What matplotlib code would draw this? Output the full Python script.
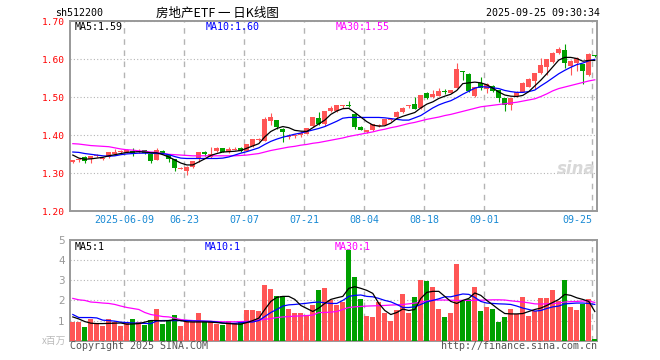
import matplotlib
matplotlib.use('Agg')
import matplotlib.pyplot as plt

plt.rcParams['font.family'] = ['DejaVu Sans Mono', 'Noto Sans CJK SC']

# 日K数据 (共88个交易日, 最后一天 2025-09-25)
opens = [1.331, 1.334, 1.344, 1.337, 1.345, 1.337, 1.342, 1.351, 1.356, 1.355,
         1.360, 1.355, 1.360, 1.352, 1.335, 1.358, 1.349, 1.337, 1.312, 1.307,
         1.316, 1.337, 1.354, 1.342, 1.358, 1.366, 1.355, 1.362, 1.366, 1.359,
         1.372, 1.388, 1.386, 1.438, 1.440, 1.416, 1.396, 1.397, 1.402, 1.404,
         1.424, 1.445, 1.430, 1.463, 1.463, 1.476, 1.478, 1.455, 1.423, 1.410,
         1.414, 1.425, 1.427, 1.441, 1.447, 1.461, 1.476, 1.482, 1.471, 1.512,
         1.500, 1.504, 1.516, 1.512, 1.525, 1.568, 1.561, 1.504, 1.538, 1.521,
         1.530, 1.519, 1.497, 1.481, 1.503, 1.515, 1.528, 1.543, 1.563, 1.579,
         1.592, 1.616, 1.624, 1.582, 1.590, 1.587, 1.559, 1.610]
highs = [1.336, 1.339, 1.345, 1.346, 1.350, 1.343, 1.357, 1.363, 1.362, 1.364,
         1.366, 1.364, 1.361, 1.353, 1.366, 1.361, 1.350, 1.338, 1.316, 1.318,
         1.333, 1.356, 1.359, 1.370, 1.368, 1.367, 1.368, 1.370, 1.368, 1.378,
         1.391, 1.392, 1.447, 1.458, 1.441, 1.419, 1.403, 1.403, 1.412, 1.420,
         1.448, 1.462, 1.464, 1.478, 1.481, 1.481, 1.490, 1.458, 1.424, 1.415,
         1.430, 1.430, 1.443, 1.446, 1.463, 1.475, 1.481, 1.502, 1.507, 1.514,
         1.518, 1.524, 1.523, 1.520, 1.591, 1.569, 1.563, 1.528, 1.553, 1.538,
         1.533, 1.520, 1.498, 1.499, 1.516, 1.540, 1.552, 1.564, 1.603, 1.602,
         1.620, 1.632, 1.641, 1.597, 1.605, 1.588, 1.616, 1.611]
lows = [1.328, 1.331, 1.328, 1.328, 1.342, 1.335, 1.340, 1.350, 1.354, 1.353,
        1.345, 1.353, 1.352, 1.328, 1.334, 1.350, 1.329, 1.307, 1.311, 1.295,
        1.315, 1.330, 1.346, 1.341, 1.357, 1.356, 1.354, 1.360, 1.357, 1.358,
        1.370, 1.384, 1.385, 1.427, 1.416, 1.383, 1.391, 1.394, 1.396, 1.403,
        1.422, 1.427, 1.425, 1.461, 1.462, 1.471, 1.474, 1.416, 1.413, 1.405,
        1.412, 1.421, 1.426, 1.438, 1.446, 1.460, 1.473, 1.468, 1.470, 1.496,
        1.499, 1.503, 1.508, 1.511, 1.524, 1.546, 1.513, 1.501, 1.520, 1.512,
        1.513, 1.488, 1.463, 1.467, 1.502, 1.514, 1.527, 1.522, 1.562, 1.559,
        1.591, 1.615, 1.577, 1.559, 1.568, 1.536, 1.557, 1.607]
closes = [1.333, 1.336, 1.333, 1.345, 1.347, 1.339, 1.356, 1.357, 1.358, 1.362,
          1.354, 1.359, 1.353, 1.333, 1.361, 1.353, 1.338, 1.313, 1.314, 1.317,
          1.332, 1.355, 1.352, 1.351, 1.366, 1.357, 1.364, 1.364, 1.359, 1.377,
          1.390, 1.390, 1.444, 1.449, 1.423, 1.410, 1.398, 1.400, 1.405, 1.419,
          1.447, 1.430, 1.463, 1.472, 1.479, 1.478, 1.476, 1.423, 1.414, 1.413,
          1.429, 1.427, 1.442, 1.443, 1.462, 1.473, 1.478, 1.469, 1.506, 1.497,
          1.510, 1.516, 1.514, 1.519, 1.575, 1.566, 1.516, 1.527, 1.524, 1.535,
          1.516, 1.497, 1.479, 1.498, 1.515, 1.537, 1.548, 1.563, 1.585, 1.601,
          1.617, 1.627, 1.589, 1.596, 1.603, 1.570, 1.613, 1.608]

ma5 = [1.348, 1.340, 1.337, 1.338, 1.340, 1.342, 1.346, 1.349, 1.352, 1.355,
       1.356, 1.357, 1.356, 1.354, 1.354, 1.349, 1.343, 1.335, 1.327, 1.322,
       1.322, 1.330, 1.338, 1.347, 1.352, 1.356, 1.357, 1.358, 1.360, 1.366,
       1.372, 1.378, 1.396, 1.410, 1.418, 1.423, 1.420, 1.413, 1.411, 1.410,
       1.420, 1.430, 1.440, 1.455, 1.464, 1.470, 1.471, 1.460, 1.448, 1.436,
       1.427, 1.424, 1.425, 1.432, 1.444, 1.450, 1.455, 1.460, 1.472, 1.482,
       1.488, 1.497, 1.503, 1.508, 1.518, 1.536, 1.538, 1.540, 1.538, 1.533,
       1.524, 1.514, 1.506, 1.503, 1.502, 1.505, 1.515, 1.530, 1.545, 1.562,
       1.580, 1.598, 1.605, 1.605, 1.602, 1.595, 1.597, 1.597]
ma10 = [1.356, 1.355, 1.352, 1.350, 1.348, 1.346, 1.345, 1.346, 1.349, 1.351,
        1.352, 1.353, 1.353, 1.353, 1.352, 1.352, 1.349, 1.344, 1.340, 1.339,
        1.339, 1.339, 1.339, 1.339, 1.339, 1.340, 1.343, 1.348, 1.353, 1.357,
        1.362, 1.367, 1.376, 1.384, 1.390, 1.395, 1.399, 1.403, 1.406, 1.410,
        1.414, 1.418, 1.423, 1.430, 1.437, 1.445, 1.447, 1.447, 1.447, 1.447,
        1.447, 1.447, 1.446, 1.444, 1.442, 1.440, 1.440, 1.446, 1.452, 1.462,
        1.472, 1.480, 1.486, 1.491, 1.499, 1.508, 1.516, 1.524, 1.528, 1.527,
        1.525, 1.523, 1.518, 1.515, 1.513, 1.513, 1.515, 1.519, 1.530, 1.540,
        1.551, 1.562, 1.571, 1.579, 1.586, 1.590, 1.596, 1.600]
ma30 = [1.378, 1.377, 1.375, 1.373, 1.372, 1.371, 1.370, 1.367, 1.364, 1.362,
        1.361, 1.359, 1.358, 1.356, 1.355, 1.352, 1.350, 1.349, 1.348, 1.347,
        1.346, 1.346, 1.346, 1.346, 1.346, 1.346, 1.346, 1.346, 1.347, 1.348,
        1.350, 1.352, 1.356, 1.360, 1.363, 1.366, 1.369, 1.371, 1.374, 1.376,
        1.379, 1.381, 1.384, 1.387, 1.390, 1.393, 1.397, 1.400, 1.403, 1.406,
        1.409, 1.413, 1.416, 1.420, 1.423, 1.427, 1.431, 1.434, 1.438, 1.442,
        1.445, 1.448, 1.452, 1.455, 1.459, 1.463, 1.467, 1.471, 1.475, 1.477,
        1.479, 1.481, 1.483, 1.485, 1.487, 1.490, 1.493, 1.496, 1.502, 1.509,
        1.517, 1.523, 1.527, 1.531, 1.535, 1.539, 1.543, 1.546]

# 成交量 (百万)
volumes = [0.93, 0.93, 0.69, 1.07, 0.90, 0.75, 1.07, 0.92, 0.75, 0.87,
           1.07, 0.92, 0.78, 1.02, 1.58, 0.85, 1.02, 1.28, 0.74, 0.92,
           0.92, 1.38, 1.00, 1.00, 0.85, 0.78, 0.98, 0.86, 0.95, 1.53,
           1.53, 1.45, 2.78, 2.58, 2.20, 2.20, 1.57, 1.37, 1.40, 1.28,
           1.78, 2.53, 2.63, 2.02, 1.79, 1.92, 4.49, 3.15, 2.08, 1.25,
           1.18, 1.92, 1.37, 1.00, 1.53, 2.33, 1.40, 2.15, 3.03, 2.98,
           2.65, 1.58, 1.18, 1.38, 3.83, 1.98, 2.08, 2.68, 1.48, 1.65,
           1.58, 0.95, 1.18, 1.58, 1.32, 2.18, 1.25, 1.48, 2.13, 2.13,
           2.53, 1.98, 3.03, 1.65, 1.53, 1.83, 2.08, 0.08]
vol_ma5 = [1.18, 1.08, 0.95, 0.87, 0.85, 0.85, 0.86, 0.87, 0.88, 0.82,
           0.83, 0.85, 0.92, 1.00, 1.00, 0.98, 1.00, 1.05, 1.00, 0.94,
           0.93, 0.93, 0.93, 0.92, 0.90, 0.87, 0.85, 0.83, 0.82, 0.90,
           1.00, 1.12, 1.55, 1.95, 2.15, 2.20, 2.20, 2.05, 1.75, 1.60,
           1.45, 1.62, 1.85, 2.05, 2.13, 2.20, 2.60, 2.68, 2.60, 2.50,
           2.35, 1.85, 1.50, 1.30, 1.40, 1.57, 1.50, 1.55, 2.10, 2.40,
           2.45, 2.45, 2.20, 1.95, 1.85, 2.00, 2.10, 2.37, 2.25, 2.00,
           1.78, 1.55, 1.35, 1.33, 1.33, 1.35, 1.45, 1.55, 1.62, 1.75,
           1.90, 2.05, 2.30, 2.25, 2.13, 2.05, 1.95, 1.45]
vol_ma10 = [1.30, 1.15, 1.15, 1.15, 1.13, 1.02, 1.00, 0.97, 0.92, 0.90,
            0.88, 0.87, 0.86, 0.85, 0.98, 1.00, 1.00, 1.00, 1.00, 1.00,
            0.98, 0.98, 0.97, 0.96, 0.93, 0.88, 0.86, 0.86, 0.90, 0.92,
            0.93, 1.00, 1.20, 1.40, 1.55, 1.72, 1.78, 1.80, 1.83, 1.86,
            1.90, 1.92, 1.88, 1.85, 1.85, 2.00, 2.20, 2.25, 2.27, 2.20,
            2.18, 2.10, 2.00, 1.93, 1.80, 1.65, 1.65, 1.68, 1.80, 1.93,
            2.00, 2.08, 2.18, 2.18, 2.25, 2.32, 2.30, 2.15, 1.95, 1.87,
            1.85, 1.83, 1.82, 1.80, 1.72, 1.62, 1.55, 1.47, 1.50, 1.60,
            1.68, 1.72, 1.83, 1.85, 1.87, 1.87, 1.85, 1.80]
vol_ma30 = [2.10, 2.03, 2.00, 1.92, 1.90, 1.87, 1.85, 1.80, 1.72, 1.65,
            1.60, 1.55, 1.40, 1.30, 1.25, 1.20, 1.18, 1.12, 1.05, 1.02,
            1.00, 0.98, 0.97, 0.96, 0.95, 0.94, 0.94, 0.94, 0.95, 0.96,
            0.98, 1.02, 1.06, 1.10, 1.15, 1.18, 1.20, 1.22, 1.23, 1.25,
            1.27, 1.40, 1.40, 1.42, 1.45, 1.55, 1.65, 1.68, 1.70, 1.72,
            1.73, 1.74, 1.75, 1.77, 1.78, 1.80, 1.83, 1.87, 1.92, 1.97,
            2.02, 2.02, 2.02, 2.01, 2.00, 2.00, 2.00, 2.00, 2.01, 2.02,
            2.03, 2.03, 2.02, 1.98, 1.95, 1.92, 1.88, 1.83, 1.82, 1.83,
            1.85, 1.87, 1.92, 1.94, 1.95, 1.97, 1.97, 1.90]

tick_idx = [9, 19, 29, 39, 49, 59, 69, 87]
tick_labels = ['2025-06-09', '06-23', '07-07', '07-21', '08-04', '08-18', '09-01', '09-25']

up_color = '#ff5555'
down_color = '#00a000'
frame_color = '#999999'
grid_color = '#b4b4b4'

n = len(closes)
x = list(range(n))
colors = [up_color if closes[i] >= opens[i] else down_color for i in x]

fig = plt.figure(figsize=(6.6, 3.6), dpi=100)
ax = fig.add_axes([70.3 / 660, 1 - 211.3 / 360, 527 / 660, 190 / 360])
axv = fig.add_axes([70.3 / 660, 1 - 340.7 / 360, 527 / 660, 100.7 / 360])

# 价格K线
bottoms = [min(opens[i], closes[i]) for i in x]
heights = [max(abs(closes[i] - opens[i]), 0.0028) for i in x]
ax.vlines(x, lows, highs, colors=colors, linewidth=0.8, zorder=3)
ax.bar(x, heights, bottom=bottoms, width=0.82, color=colors, linewidth=0, zorder=4)
ax.plot(x, ma30, color='#ff00ff', linewidth=0.9, zorder=5)
ax.plot(x, ma10, color='#0000ff', linewidth=0.9, zorder=5)
ax.plot(x, ma5, color='#000000', linewidth=0.9, zorder=5)

ax.set_xlim(-0.42, n - 0.58)
ax.set_ylim(1.20, 1.70)
ax.set_yticks([1.20, 1.30, 1.40, 1.50, 1.60, 1.70])
ax.set_yticklabels(['%.2f' % v for v in [1.20, 1.30, 1.40, 1.50, 1.60, 1.70]],
                   color='#ff0000', fontsize=6.8)
ax.tick_params(axis='y', length=0, pad=4)
ax.set_xticks([t - 0.42 for t in tick_idx])
ax.set_xticklabels(tick_labels, color='#1a8ad4', fontsize=7.2)
ax.get_xticklabels()[-1].set_horizontalalignment('right')
ax.tick_params(axis='x', length=0, pad=3)
ax.yaxis.grid(True, color=grid_color, linestyle=(0, (1, 2)), linewidth=0.8)

# 成交量
axv.bar(x, volumes, width=0.82, color=colors, linewidth=0, zorder=3)
axv.plot(x, vol_ma30, color='#ff00ff', linewidth=0.9, zorder=5)
axv.plot(x, vol_ma10, color='#0000ff', linewidth=0.9, zorder=5)
axv.plot(x, vol_ma5, color='#000000', linewidth=0.9, zorder=5)
axv.set_xlim(-0.42, n - 0.58)
axv.set_ylim(0, 5)
axv.set_yticks([1, 2, 3, 4, 5])
axv.set_yticklabels(['1', '2', '3', '4', '5'], color='#999999', fontsize=7.5,
                    family='DejaVu Sans')
axv.tick_params(axis='y', length=0, pad=4)
axv.set_xticks([t - 0.42 for t in tick_idx])
axv.set_xticklabels([])
axv.tick_params(axis='x', length=0)
axv.yaxis.grid(True, color=grid_color, linestyle=(0, (1, 2)), linewidth=0.8)

for a in (ax, axv):
    for t in tick_idx:
        a.axvline(t - 0.42, color=grid_color, linestyle=(0, (4, 4)), linewidth=1, zorder=1)
    for s in a.spines.values():
        s.set_color(frame_color)
        s.set_linewidth(1.4)
    a.set_axisbelow(True)

# 文字
fig.text(55 / 660, 1 - 13 / 360, 'sh512200', fontsize=7.2, va='center', color='#000000')
fig.text(217 / 660, 1 - 13 / 360, '房地产ETF 一 日K线图', fontsize=9, va='center', ha='center',
         family=['Noto Sans CJK SC', 'DejaVu Sans'])
fig.text(600 / 660, 1 - 13 / 360, '2025-09-25 09:30:34', fontsize=7.2, va='center', ha='right')

fig.text(75 / 660, 1 - 27 / 360, 'MA5:1.59', fontsize=7.2, va='center', color='#000000')
fig.text(206 / 660, 1 - 27 / 360, 'MA10:1.60', fontsize=7.2, va='center', color='#0000ff')
fig.text(336 / 660, 1 - 27 / 360, 'MA30:1.55', fontsize=7.2, va='center', color='#ff00ff')

fig.text(75 / 660, 1 - 247 / 360, 'MA5:1', fontsize=7.2, va='center', color='#000000')
fig.text(205 / 660, 1 - 247 / 360, 'MA10:1', fontsize=7.2, va='center', color='#0000ff')
fig.text(335 / 660, 1 - 247 / 360, 'MA30:1', fontsize=7.2, va='center', color='#ff00ff')

fig.text(66 / 660, 1 - 341 / 360, 'x百万', fontsize=7, va='center', ha='right', color='#bbbbbb',
         family=['Noto Sans CJK SC', 'DejaVu Sans'])
fig.text(70 / 660, 1 - 346 / 360, 'Copyright 2025 SINA.COM', fontsize=7.2, va='center', color='#555555')
fig.text(597 / 660, 1 - 346 / 360, 'http://finance.sina.com.cn', fontsize=7.2, va='center',
         ha='right', color='#555555')
fig.text(576 / 660, 1 - 169 / 360, 'sina', fontsize=12, va='center', ha='center', color='#d8d8d8',
         style='italic', weight='bold', family='DejaVu Sans')

plt.savefig('out.png', dpi=100)
